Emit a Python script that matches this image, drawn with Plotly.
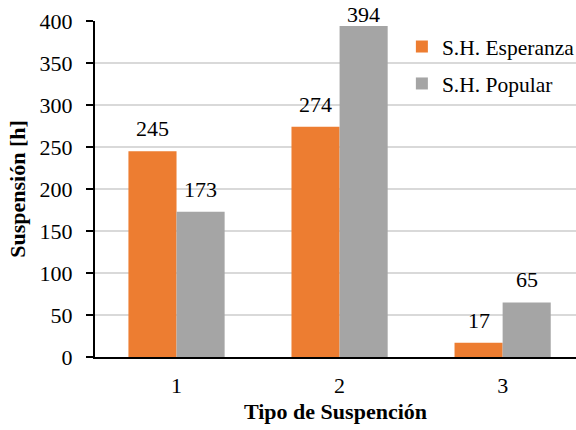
import plotly.graph_objects as go

categories = [1, 2, 3]
tick_labels = ["1", "2", "3"]
esperanza = [245, 274, 17]
popular = [173, 394, 65]
series_names = ["S.H. Esperanza", "S.H. Popular"]
colors = ["#ED7D31", "#A5A5A5"]

FONT = "Liberation Serif, Times New Roman, serif"
YMAX = 400
BARGAP = 0.41
BAR_W = (1 - BARGAP) / 2

fig = go.Figure()
annotations = []
for i, (name, vals, col) in enumerate(zip(series_names, [esperanza, popular], colors)):
    fig.add_trace(go.Bar(
        x=categories, y=vals, name=name, marker_color=col, marker_line_width=0,
        legendgroup=name, hoverinfo="skip",
    ))
    off = (i - 0.5) * BAR_W
    for c, v in zip(categories, vals):
        annotations.append(dict(
            x=c + off, y=v, xref="x", yref="y", text=str(v), showarrow=False,
            xanchor="center", yanchor="bottom",
            yshift=-3 if v > 0.95 * YMAX else 8,
            font=dict(family=FONT, size=22, color="#000000"),
        ))

fig.update_layout(
    width=576, height=430,
    margin=dict(l=95, r=0, t=21, b=73, autoexpand=False),
    paper_bgcolor="white", plot_bgcolor="white",
    barmode="group", bargap=BARGAP, bargroupgap=0,
    font=dict(family=FONT, size=22, color="#000000"),
    showlegend=True,
    legend=dict(x=0.638, y=0.985, xanchor="left", yanchor="top",
                bgcolor="rgba(0,0,0,0)", font=dict(family=FONT, size=21.5),
                traceorder="grouped", tracegroupgap=6),
    annotations=annotations,
)
fig.update_xaxes(
    range=[0.5, 3.45], tickvals=categories, ticktext=tick_labels,
    showline=True, linecolor="#000000", linewidth=2, ticks="",
    showgrid=False, zeroline=False, ticklabelstandoff=8,
    tickfont=dict(family=FONT, size=22),
    title=dict(text="<b>Tipo de Suspención</b>", font=dict(family=FONT, size=22), standoff=6),
)
fig.update_yaxes(
    range=[0, YMAX], tick0=0, dtick=50,
    showline=True, linecolor="#000000", linewidth=2,
    ticks="outside", ticklen=7, tickcolor="#000000", tickwidth=2,
    gridcolor="#D9D9D9", gridwidth=1.5, zeroline=False, ticklabelstandoff=9,
    tickfont=dict(family=FONT, size=22),
    title=dict(text="<b>Suspensión [h]</b>", font=dict(family=FONT, size=22), standoff=8),
)

fig.write_html(
    "out.html",
    config={"displayModeBar": False},
    post_script="document.body.style.margin='0';document.body.style.overflow='hidden';",
)
